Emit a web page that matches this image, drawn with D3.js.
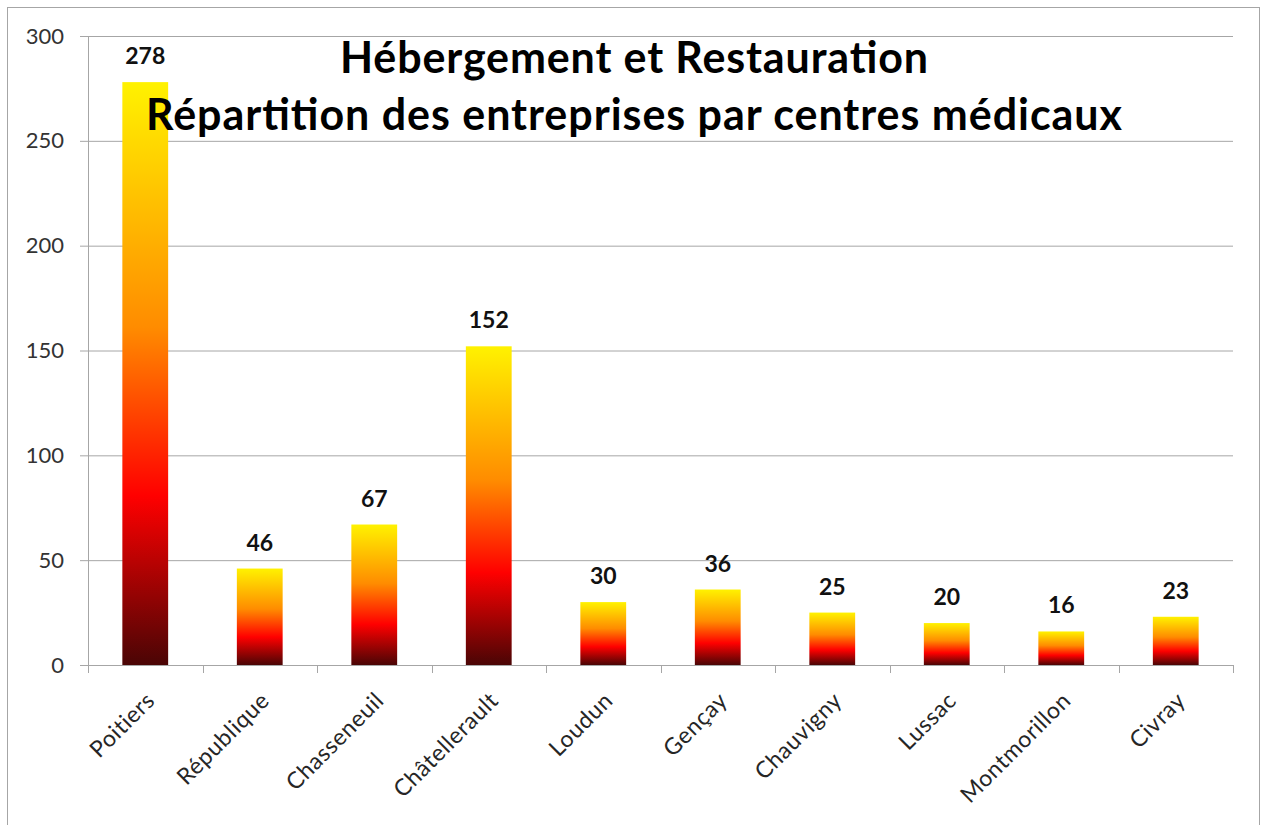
<!DOCTYPE html>
<html>
<head>
<meta charset="utf-8">
<script src="https://cdn.jsdelivr.net/npm/d3@7"></script>
<style>
body { margin: 0; background: #fff; }
text { font-family: Lato, "Noto Sans", sans-serif; }
</style>
</head>
<body>
<svg id="chart"></svg>
<script>
var svg_width = 1264
var svg_height = 825

var centres = ["Poitiers", "République", "Chasseneuil", "Châtellerault", "Loudun",
               "Gençay", "Chauvigny", "Lussac", "Montmorillon", "Civray"];
var entreprises = [278, 46, 67, 152, 30, 36, 25, 20, 16, 23];
var yTicks = [0, 50, 100, 150, 200, 250, 300];
var titleLines = ["Hébergement et Restauration", "Répartition des entreprises par centres médicaux"];
var titleWidths = [588, 976];

var margin = { left: 88, right: 31, top: 36, bottom: 160 }

chart = d3.select("#chart")
.attr("width", svg_width)
.attr("height", svg_height);

// outer frame
chart.append("rect")
.attr("x", 7.5).attr("y", 7.5)
.attr("width", 1252).attr("height", 830)
.attr("fill", "none")
.attr("stroke", "#a6a6a6");

var x = d3.scaleBand()
.domain(centres)
.range([margin.left, svg_width - margin.right])
.paddingInner(0.6)
.paddingOuter(0.3);

var y = d3.scaleLinear()
.domain([0, 300])
.range([665, margin.top]);

// gradient for bars (yellow top -> dark red bottom)
var grad = chart.append("defs").append("linearGradient")
.attr("id", "barfill")
.attr("x1", 0).attr("y1", 0).attr("x2", 0).attr("y2", 1);
grad.append("stop").attr("offset", "0%").attr("stop-color", "#fff200");
grad.append("stop").attr("offset", "42%").attr("stop-color", "#ff8c00");
grad.append("stop").attr("offset", "71%").attr("stop-color", "#ff0000");
grad.append("stop").attr("offset", "100%").attr("stop-color", "#4a0505");

// gridlines + y labels
var yAxis = d3.axisLeft(y)
.tickValues(yTicks)
.tickSize(0)
.tickPadding(0);

chart.append("g")
.attr("transform", "translate(" + margin.left + ",0)")
.call(yAxis)
.call(function(g) {
  g.select(".domain").remove();
  g.selectAll(".tick line")
   .attr("stroke", "#a6a6a6")
   .attr("x1", -8)
   .attr("x2", svg_width - margin.right - margin.left);
  g.selectAll(".tick text")
   .attr("x", -24)
   .attr("font-size", "22px")
   .attr("font-family", "Lato, sans-serif")
   .attr("fill", "#333");
});

// vertical axis line
chart.append("line")
.attr("x1", margin.left + 0.5).attr("x2", margin.left + 0.5)
.attr("y1", margin.top).attr("y2", 673)
.attr("stroke", "#a6a6a6");

// x axis ticks at band boundaries
var step = x.step();
var bounds = d3.range(centres.length + 1).map(function(i) { return margin.left + i * step; });
chart.selectAll(".xtick")
.data(bounds)
.enter()
.append("line")
.attr("x1", function(d) { return Math.round(d) + 0.5; })
.attr("x2", function(d) { return Math.round(d) + 0.5; })
.attr("y1", 665).attr("y2", 673)
.attr("stroke", "#a6a6a6");

chart.append("line")
.attr("x1", margin.left).attr("x2", svg_width - margin.right)
.attr("y1", 665.5).attr("y2", 665.5)
.attr("stroke", "#a6a6a6");

// bars
chart.selectAll(".bar")
.data(entreprises)
.enter()
.append("rect")
.attr("class", "bar")
.attr("x", function(d, i) { return x(centres[i]); })
.attr("y", function(d) { return y(d); })
.attr("width", x.bandwidth())
.attr("height", function(d) { return y(0) - y(d); })
.attr("fill", "url(#barfill)");

// value labels
chart.selectAll(".val")
.data(entreprises)
.enter()
.append("text")
.attr("x", function(d, i) { return x(centres[i]) + x.bandwidth() / 2; })
.attr("y", function(d) { return y(d) - 18; })
.attr("text-anchor", "middle")
.attr("font-size", "23px")
.attr("font-weight", "bold")
.attr("fill", "#111")
.text(function(d) { return d; });

// category labels
chart.selectAll(".cat")
.data(centres)
.enter()
.append("text")
.attr("transform", function(d) {
  var cx = x(d) + x.bandwidth() / 2 + 11;
  return "translate(" + cx + ",702) rotate(-45)";
})
.attr("text-anchor", "end")
.attr("font-size", "23px")
.attr("letter-spacing", "0.6px")
.attr("fill", "#262626")
.text(function(d) { return d; });

// title
chart.selectAll(".title")
.data(titleLines)
.enter()
.append("text")
.attr("x", 634)
.attr("y", function(d, i) { return 73 + i * 57; })
.attr("text-anchor", "middle")
.attr("font-size", "43px")
.attr("font-weight", "bold")
.attr("fill", "#000")
.attr("textLength", function(d, i) { return titleWidths[i]; })
.attr("lengthAdjust", "spacing")
.text(function(d) { return d; });
</script>
</body>
</html>
